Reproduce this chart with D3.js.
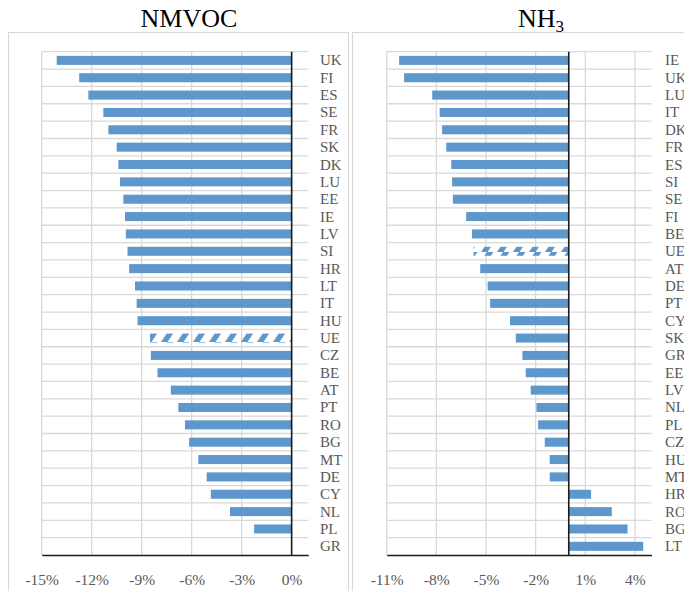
<!DOCTYPE html>
<html><head><meta charset="utf-8">
<script src="https://cdn.jsdelivr.net/npm/d3@7"></script>
<style>
html,body{margin:0;padding:0;background:#fff;}
svg{display:block;}
</style></head>
<body>
<script>
const nmvocCats = ["UK","FI","ES","SE","FR","SK","DK","LU","EE","IE","LV","SI","HR","LT","IT","HU","UE","CZ","BE","AT","PT","RO","BG","MT","DE","CY","NL","PL","GR"];
const nmvocVals = [-14.1,-12.75,-12.2,-11.3,-11.0,-10.5,-10.4,-10.3,-10.1,-10.0,-9.95,-9.85,-9.75,-9.4,-9.3,-9.25,-8.5,-8.45,-8.05,-7.25,-6.8,-6.4,-6.15,-5.6,-5.1,-4.85,-3.7,-2.25,0];
const nh3Cats = ["IE","UK","LU","IT","DK","FR","ES","SI","SE","FI","BE","UE","AT","DE","PT","CY","SK","GR","EE","LV","NL","PL","CZ","HU","MT","HR","RO","BG","LT"];
const nh3Vals = [-10.25,-9.95,-8.25,-7.8,-7.65,-7.4,-7.1,-7.05,-7.0,-6.2,-5.85,-5.75,-5.35,-4.9,-4.75,-3.55,-3.2,-2.8,-2.6,-2.3,-1.95,-1.85,-1.45,-1.15,-1.15,1.35,2.6,3.55,4.5];
const nmvocTicks = [-15,-12,-9,-6,-3,0];
const nh3Ticks = [-11,-8,-5,-2,1,4];
const nmvocDomain = [-15,1];
const nh3Domain = [-11,5];
const hatchedCat = "UE";

const W = 684, H = 591;
const svg = d3.select("body").append("svg").attr("width",W).attr("height",H);
const barColor = "#5E97CB";
const textColor = "#595959";
const gridColor = "#d9d9d9";

const defs = svg.append("defs");
const pat = defs.append("pattern").attr("id","hatch").attr("patternUnits","userSpaceOnUse")
  .attr("width",16).attr("height",9).attr("x",0).attr("y",0);
pat.append("polygon").attr("points","1,9 7.5,9 13.5,0 7,0").attr("fill",barColor);

function panel(opt){
  const g = svg.append("g");
  g.append("rect").attr("x",opt.frameX+0.5).attr("y",32.5).attr("width",opt.frameW).attr("height",H)
    .attr("fill","none").attr("stroke",gridColor).attr("stroke-width",1.2);
  const x = d3.scaleLinear().domain(opt.domain).range([opt.x0,opt.x1]);
  const y = d3.scaleBand().domain(opt.cats).range([51.7,555]).paddingInner(0.48).paddingOuter(0.24);
  const step = y.step();
  const bounds = d3.range(opt.cats.length).map(i=>51.7+i*step);
  g.selectAll(".hg").data(bounds).join("line")
    .attr("x1",opt.x0).attr("x2",opt.x1).attr("y1",d=>d).attr("y2",d=>d)
    .attr("stroke",gridColor).attr("stroke-width",1.3);
  g.selectAll(".vg").data(opt.ticks.filter(t=>t!==0)).join("line")
    .attr("x1",d=>x(d)).attr("x2",d=>x(d)).attr("y1",51.7).attr("y2",555)
    .attr("stroke",gridColor).attr("stroke-width",1.3);
  const data = opt.cats.map((c,i)=>({c,v:opt.vals[i]}));
  g.selectAll(".bar").data(data.filter(d=>d.v!==0)).join("rect")
    .attr("x",d=>Math.min(x(0),x(d.v))).attr("width",d=>Math.abs(x(d.v)-x(0)))
    .attr("y",d=>y(d.c)).attr("height",y.bandwidth())
    .attr("fill",d=>d.c===hatchedCat?"url(#hatch)":barColor);
  g.append("line").attr("x1",x(0)).attr("x2",x(0)).attr("y1",51.7).attr("y2",555)
    .attr("stroke","#1a1a1a").attr("stroke-width",1.6);
  const ax = g.append("g").attr("transform","translate(0,555)")
    .call(d3.axisBottom(x).tickValues(opt.ticks).tickSize(0).tickPadding(19).tickFormat(d=>d+"%"));
  ax.select(".domain").attr("stroke","#1a1a1a").attr("stroke-width",1.6);
  ax.selectAll("text").attr("fill",textColor).style("font-family","'Liberation Serif','Times New Roman',serif").style("font-size","15.5px");
  g.selectAll(".cl").data(opt.cats).join("text")
    .attr("x",opt.labelX).attr("y",d=>y(d)+y.bandwidth()/2+5)
    .attr("fill",textColor).style("font-family","'Liberation Serif','Times New Roman',serif").style("font-size","15px")
    .text(d=>d);
  const t = g.append("text").attr("x",opt.titleX).attr("y",27).attr("text-anchor","middle")
    .attr("fill","#000").style("font-family","'Liberation Serif','Times New Roman',serif").style("font-size","26px");
  t.append("tspan").text(opt.title);
  if(opt.sub){ t.append("tspan").attr("dy",5).style("font-size","17px").text(opt.sub); }
}

panel({frameX:8,frameW:340,domain:nmvocDomain,x0:41.7,x1:308.3,cats:nmvocCats,vals:nmvocVals,ticks:nmvocTicks,labelX:320,title:"NMVOC",titleX:189});
panel({frameX:352,frameW:340,domain:nh3Domain,x0:386.7,x1:651.5,cats:nh3Cats,vals:nh3Vals,ticks:nh3Ticks,labelX:665,title:"NH",sub:"3",titleX:541});
</script>
</body></html>
